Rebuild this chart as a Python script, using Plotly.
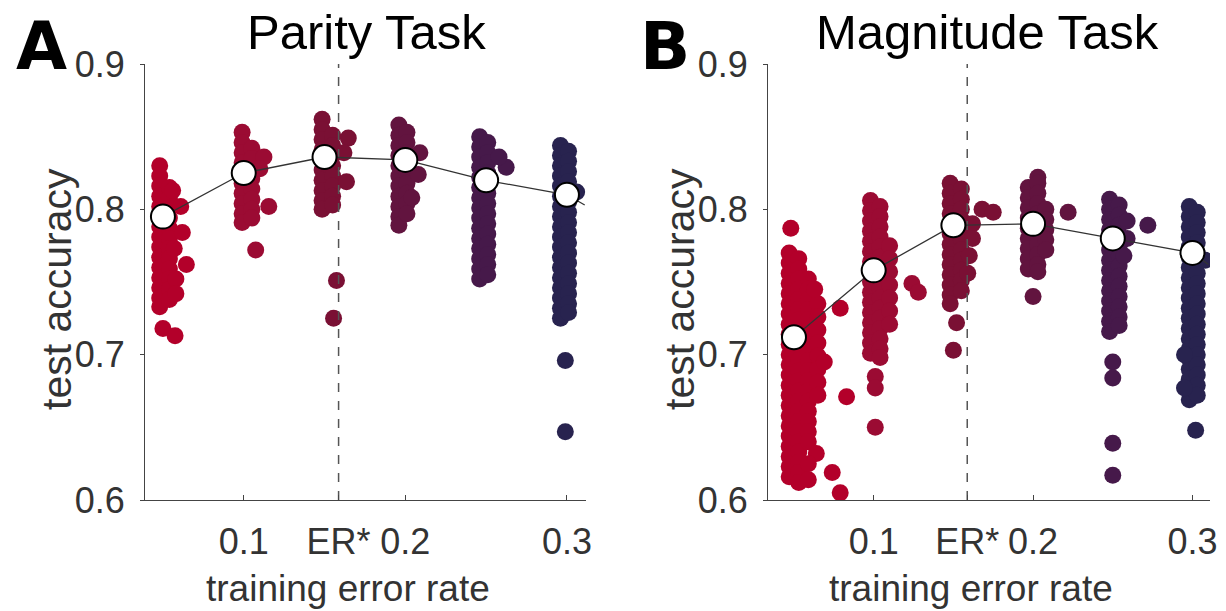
import plotly.graph_objects as go

# ---------------- data ----------------
ER_STAR = 0.1587
train_err = [0.05, 0.10, 0.15, 0.20, 0.25, 0.30]
x_tickvals = [0.1, ER_STAR, 0.2, 0.3]
x_ticktext = ["0.1", "ER*", "0.2", "0.3"]
y_tickvals = [0.6, 0.7, 0.8, 0.9]
y_ticktext = ["0.6", "0.7", "0.8", "0.9"]

cluster_colors = ["#b3002a", "#9b0b33", "#7a1034", "#62143f", "#46194a", "#28234f"]

parity_means = [0.795, 0.825, 0.836, 0.834, 0.820, 0.810]
magnitude_means = [0.712, 0.758, 0.789, 0.790, 0.780, 0.770]

parity_fit_x = [0.05, 0.10, 0.15, 0.20, 0.25, 0.30, 0.311]
parity_fit_y = [0.795, 0.825, 0.836, 0.834, 0.820, 0.810, 0.803]
magnitude_fit_x = [0.05, 0.10, 0.15, 0.20, 0.25, 0.30, 0.310]
magnitude_fit_y = [0.712, 0.758, 0.789, 0.790, 0.780, 0.770, 0.762]

# each network run: (horizontal jitter, [test accuracies])
parity_runs = [
    [(-0.002, [0.830, 0.823, 0.816, 0.809, 0.802, 0.795, 0.788, 0.781, 0.774, 0.767, 0.760, 0.753, 0.746, 0.739, 0.733]),
     (0.004, [0.815, 0.808, 0.801, 0.794, 0.787, 0.780, 0.773, 0.766, 0.759, 0.752, 0.745, 0.738]),
     (0.006, [0.813]), (0.011, [0.802]), (0.012, [0.784]), (0.0145, [0.762]), (0.007, [0.773]),
     (0.008, [0.752, 0.742]), (0.000, [0.718]), (0.0075, [0.713])],
    [(-0.001, [0.853, 0.846, 0.839, 0.832, 0.825, 0.818, 0.811, 0.804, 0.797, 0.791]),
     (0.005, [0.842, 0.835, 0.828, 0.821, 0.814, 0.807, 0.800, 0.794]),
     (0.0125, [0.836]), (0.010, [0.828]), (0.0155, [0.802]), (0.0074, [0.772])],
    [(-0.0015, [0.862, 0.855, 0.848, 0.841, 0.834, 0.827, 0.820, 0.813, 0.806, 0.800]),
     (0.005, [0.851, 0.844, 0.837, 0.830, 0.823, 0.816, 0.809, 0.803]),
     (0.0147, [0.849]), (0.012, [0.839]), (0.0136, [0.819]), (0.0074, [0.751]), (0.0056, [0.725])],
    [(-0.004, [0.858, 0.851, 0.844, 0.837, 0.830, 0.823, 0.816, 0.809, 0.802, 0.795, 0.789]),
     (0.001, [0.853, 0.846, 0.839, 0.832, 0.825, 0.818, 0.811, 0.804, 0.797]),
     (0.009, [0.839]), (0.008, [0.824]), (0.004, [0.808])],
    [(-0.004, [0.850, 0.843, 0.836, 0.829, 0.822, 0.815, 0.808, 0.801, 0.794, 0.787, 0.780, 0.773, 0.766, 0.759, 0.752]),
     (0.001, [0.846, 0.839, 0.832, 0.825, 0.818, 0.811, 0.804, 0.797, 0.790, 0.783, 0.776, 0.769, 0.762, 0.755]),
     (0.0124, [0.829]), (0.008, [0.836])],
    [(-0.004, [0.844, 0.837, 0.830, 0.823, 0.816, 0.809, 0.802, 0.795, 0.788, 0.781, 0.774, 0.767, 0.760, 0.753, 0.746, 0.739, 0.732, 0.725]),
     (0.001, [0.840, 0.833, 0.826, 0.819, 0.812, 0.805, 0.798, 0.791, 0.784, 0.777, 0.770, 0.763, 0.756, 0.749, 0.742, 0.735, 0.729]),
     (0.006, [0.812]), (-0.001, [0.696, 0.647])],
]

magnitude_runs = [
    [(-0.003, [0.770, 0.763, 0.756, 0.749, 0.742, 0.735, 0.728, 0.721, 0.714, 0.707, 0.700, 0.693, 0.686, 0.679,
               0.672, 0.665, 0.658, 0.651, 0.644, 0.637, 0.630, 0.623, 0.616]),
     (0.003, [0.766, 0.759, 0.752, 0.745, 0.738, 0.731, 0.724, 0.717, 0.710, 0.703, 0.696, 0.689, 0.682, 0.675,
              0.668, 0.661, 0.654, 0.647, 0.640, 0.633, 0.626, 0.619, 0.612]),
     (0.009, [0.752, 0.745, 0.738, 0.731, 0.724, 0.717, 0.710, 0.703, 0.696, 0.689, 0.682, 0.675, 0.668, 0.661,
              0.654, 0.647, 0.640]),
     (0.015, [0.735, 0.726, 0.717, 0.708, 0.699, 0.690, 0.681, 0.672]),
     (-0.002, [0.787]), (0.013, [0.745]), (0.019, [0.695]), (0.029, [0.732]), (0.033, [0.671]),
     (0.014, [0.632]), (0.009, [0.625]), (0.024, [0.619]), (0.029, [0.605]), (0.009, [0.614])],
    [(-0.002, [0.806, 0.799, 0.792, 0.785, 0.778, 0.771, 0.764, 0.757, 0.750, 0.743, 0.736, 0.729, 0.722, 0.715,
               0.708, 0.701]),
     (0.004, [0.802, 0.795, 0.788, 0.781, 0.774, 0.767, 0.760, 0.753, 0.746, 0.739, 0.732, 0.725, 0.718, 0.711,
              0.704, 0.698]),
     (0.010, [0.775, 0.766, 0.757, 0.748, 0.739, 0.730, 0.721]),
     (0.024, [0.749]), (0.028, [0.743]), (0.001, [0.685, 0.677, 0.650])],
    [(-0.002, [0.818, 0.811, 0.804, 0.797, 0.790, 0.783, 0.776, 0.769, 0.762, 0.755, 0.748, 0.741, 0.735]),
     (0.005, [0.814, 0.807, 0.800, 0.793, 0.786, 0.779, 0.772, 0.765, 0.758, 0.751, 0.744]),
     (0.018, [0.800]), (0.025, [0.798]), (0.012, [0.790]), (0.012, [0.780]), (0.010, [0.768]),
     (0.009, [0.756]), (0.002, [0.722]), (0.000, [0.703])],
    [(-0.003, [0.815, 0.808, 0.801, 0.794, 0.787, 0.780, 0.773, 0.766, 0.759]),
     (0.003, [0.822, 0.818, 0.811, 0.804, 0.797, 0.790, 0.783, 0.776, 0.769, 0.762, 0.757]),
     (0.008, [0.800, 0.793, 0.786, 0.779, 0.772]),
     (0.022, [0.798]), (0.000, [0.740])],
    [(-0.002, [0.807, 0.800, 0.793, 0.786, 0.779, 0.772, 0.765, 0.758, 0.751, 0.744, 0.737, 0.730, 0.723, 0.716]),
     (0.004, [0.803, 0.796, 0.789, 0.782, 0.775, 0.768, 0.761, 0.754, 0.747, 0.740, 0.733, 0.726, 0.720]),
     (0.022, [0.789]), (0.009, [0.792]), (0.009, [0.780]), (0.007, [0.768]),
     (0.000, [0.695, 0.684, 0.639, 0.617])],
    [(-0.002, [0.802, 0.795, 0.788, 0.781, 0.774, 0.767, 0.760, 0.753, 0.746, 0.739, 0.732, 0.725, 0.718, 0.711,
               0.704, 0.697, 0.690, 0.683, 0.676, 0.669]),
     (0.003, [0.798, 0.791, 0.784, 0.777, 0.770, 0.763, 0.756, 0.749, 0.742, 0.735, 0.728, 0.721, 0.714, 0.707,
              0.700, 0.693, 0.686, 0.679, 0.672]),
     (0.008, [0.765]), (-0.005, [0.700, 0.677]), (0.002, [0.648])],
]

# ---------------- figure ----------------
# the page body has an 8px margin, so the figure is sized to fill the rest of the window
OFF = 8
W, H = 1226 - OFF, 611 - OFF
FONT = "Liberation Sans, Arial, Helvetica, sans-serif"
LETTER_FONT = "DejaVu Sans, Liberation Sans, Arial, sans-serif"


def fx(p):
    return (p - OFF) / W


def fy(p):
    return 1 - (p - OFF) / H


fig = go.Figure()


def add_panel(runs, means, fit_x, fit_y, xa, ya):
    for i, groups in enumerate(runs):
        xs, ys = [], []
        for jit, accs in groups:
            for a in accs:
                xs.append(train_err[i] + jit)
                ys.append(a)
        fig.add_trace(go.Scatter(x=xs, y=ys, mode="markers", xaxis=xa, yaxis=ya,
                                 marker=dict(size=17, color=cluster_colors[i], line=dict(width=0)),
                                 showlegend=False, hoverinfo="skip"))
    fig.add_trace(go.Scatter(x=[ER_STAR, ER_STAR], y=[0.6, 0.9], mode="lines", xaxis=xa, yaxis=ya,
                             line=dict(color="#555555", width=1.5, dash="dash"),
                             showlegend=False, hoverinfo="skip"))
    fig.add_trace(go.Scatter(x=fit_x, y=fit_y, mode="lines", xaxis=xa, yaxis=ya,
                             line=dict(color="#333333", width=1.3),
                             showlegend=False, hoverinfo="skip", cliponaxis=True))
    fig.add_trace(go.Scatter(x=train_err, y=means, mode="markers", xaxis=xa, yaxis=ya,
                             marker=dict(size=24, color="white", line=dict(color="black", width=2)),
                             showlegend=False, hoverinfo="skip"))


add_panel(parity_runs, parity_means, parity_fit_x, parity_fit_y, "x", "y")
add_panel(magnitude_runs, magnitude_means, magnitude_fit_x, magnitude_fit_y, "x2", "y2")

ydom = [fy(500), fy(64)]
common_x = dict(tickvals=x_tickvals, ticktext=x_ticktext, ticks="inside", ticklen=5, tickwidth=1,
                tickcolor="#444444", showline=True, linecolor="#444444", linewidth=1,
                showgrid=False, zeroline=False, tickfont=dict(size=36, color="#333333", family=FONT),
                ticklabelstandoff=10, fixedrange=True, automargin=False)
common_y = dict(range=[0.6, 0.9], tickvals=y_tickvals, ticktext=y_ticktext, ticks="outside", ticklen=4,
                tickwidth=1, tickcolor="#444444", showline=True, linecolor="#444444", linewidth=1,
                showgrid=False, zeroline=False, tickfont=dict(size=36, color="#333333", family=FONT),
                ticklabelstandoff=8, fixedrange=True, automargin=False)

fig.update_layout(
    width=W, height=H, margin=dict(l=0, r=0, t=0, b=0, pad=0, autoexpand=False),
    paper_bgcolor="white", plot_bgcolor="white", showlegend=False,
    font=dict(family=FONT, color="#333333"),
    xaxis=dict(domain=[fx(145), fx(586)], range=[0.0389, 0.3118], anchor="y", **common_x),
    yaxis=dict(domain=ydom, anchor="x", **common_y),
    xaxis2=dict(domain=[fx(768), fx(1210)], range=[0.0337, 0.311], anchor="y2", **common_x),
    yaxis2=dict(domain=ydom, anchor="x2", **common_y),
)

annots = [
    dict(text="Parity Task", x=367, y=32, size=49, color="black", angle=0, family=FONT),
    dict(text="Magnitude Task", x=987, y=32, size=49, color="black", angle=0, family=FONT),
    dict(text="<b>A</b>", x=41, y=46, size=66, color="black", angle=0, family=LETTER_FONT),
    dict(text="<b>B</b>", x=665, y=46, size=66, color="black", angle=0, family=LETTER_FONT),
    dict(text="test accuracy", x=57, y=289, size=41, color="#333333", angle=-90, family=FONT),
    dict(text="test accuracy", x=680, y=289, size=41, color="#333333", angle=-90, family=FONT),
    dict(text="training error rate", x=348, y=588, size=37, color="#333333", angle=0, family=FONT),
    dict(text="training error rate", x=971, y=588, size=37, color="#333333", angle=0, family=FONT),
]
for a in annots:
    fig.add_annotation(text=a["text"], x=fx(a["x"]), y=fy(a["y"]), xref="paper", yref="paper",
                       xanchor="center", yanchor="middle", showarrow=False, textangle=a["angle"],
                       font=dict(size=a["size"], color=a["color"], family=a["family"]))

fig.write_html("out.html")
